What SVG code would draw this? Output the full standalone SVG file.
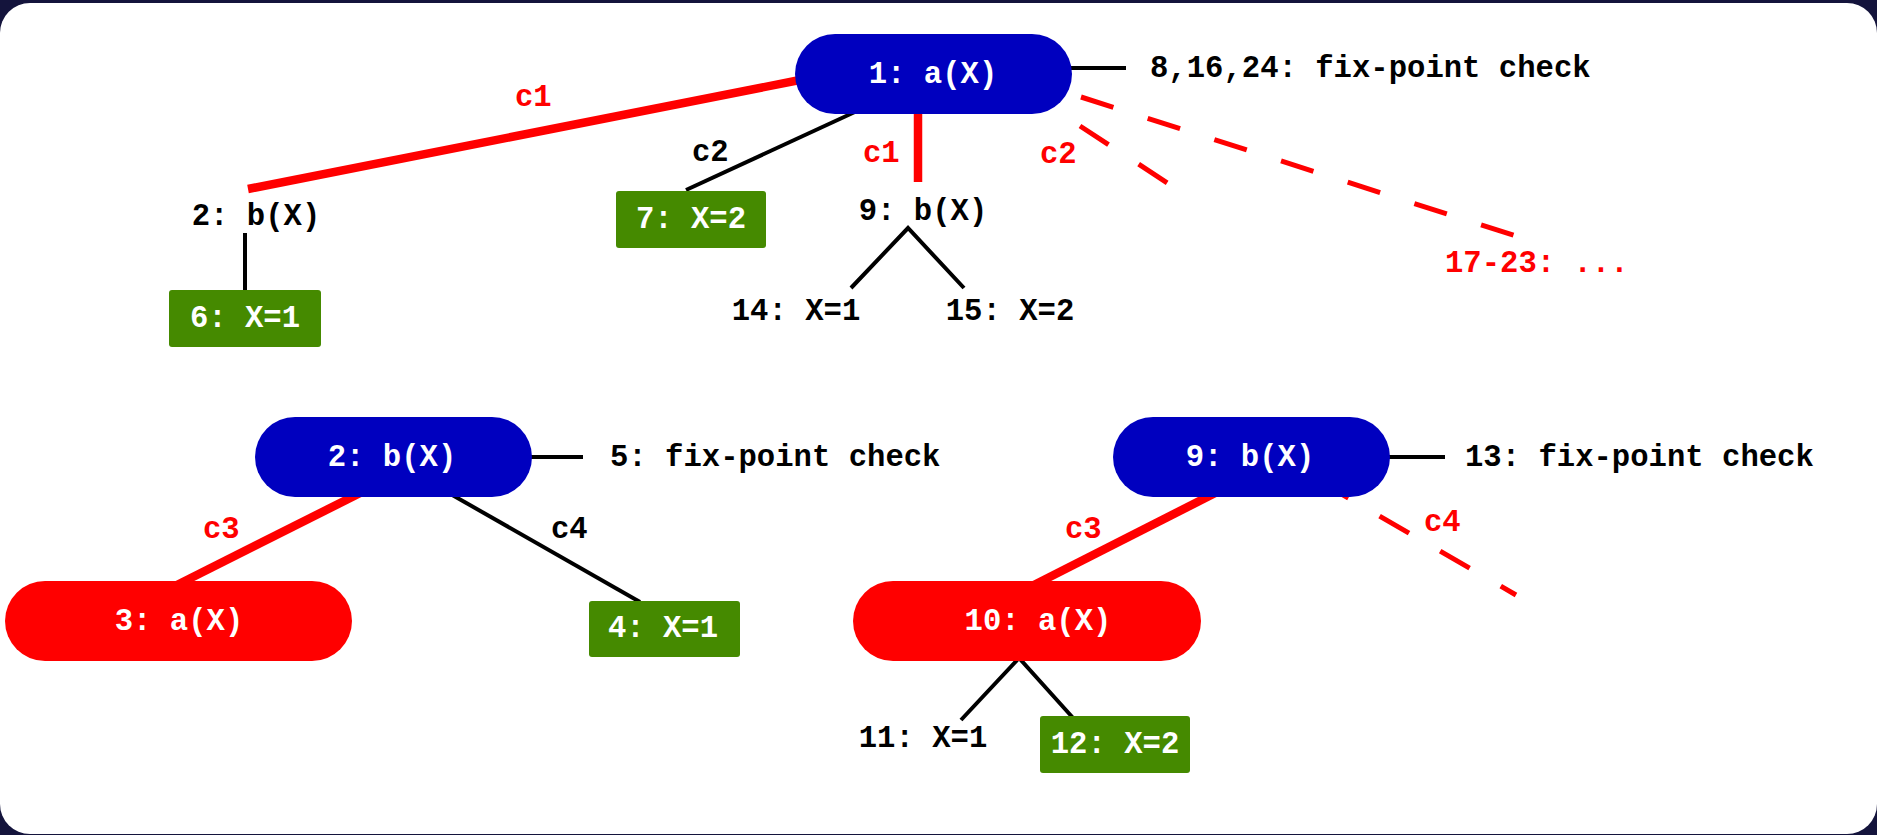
<svg xmlns="http://www.w3.org/2000/svg" width="1877" height="835" viewBox="0 0 1877 835">
  <style>
    text { font-family: "Liberation Mono", "DejaVu Sans Mono", monospace; font-weight: bold; font-size: 30.6px; }
    .w { fill: #ffffff; text-anchor: middle; }
    .k { fill: #000000; }
    .r { fill: #ff0000; }
    .km { fill: #000000; text-anchor: middle; }
    .blue { fill: #0000bf; }
    .red { fill: #ff0000; }
    .green { fill: #458a00; }
    .thin { stroke: #000000; stroke-width: 4; fill: none; }
    .thick { stroke: #ff0000; stroke-width: 8.5; fill: none; }
    .dash { stroke: #ff0000; stroke-width: 5; fill: none; stroke-dasharray: 34 36; }
  </style>
  <rect x="0" y="0" width="1877" height="835" fill="#14143c"/>
  <rect x="0" y="3" width="1877" height="831" rx="30" ry="30" fill="#ffffff"/>

  <g id="connectors">
    <line class="thick" x1="248" y1="189" x2="820" y2="76"/>
    <line class="thin" x1="870" y1="105" x2="686" y2="190"/>
    <line class="thick" x1="918" y1="110" x2="918" y2="182"/>
    <line class="thin" x1="1060" y1="68" x2="1126" y2="68"/>
    <line class="dash" x1="1081" y1="97" x2="1516" y2="236"/>
    <line class="dash" x1="1080" y1="126" x2="1169" y2="184"/>
    <line class="thin" x1="245" y1="233" x2="245" y2="291"/>
    <polyline class="thin" points="851,288 908,228 964,288"/>
    <line class="thin" x1="520" y1="457" x2="583" y2="457"/>
    <line class="thick" x1="370" y1="488" x2="175" y2="586"/>
    <line class="thin" x1="440" y1="488" x2="640" y2="602"/>
    <line class="thin" x1="1380" y1="457" x2="1445" y2="457"/>
    <line class="thick" x1="1225" y1="488" x2="1032" y2="586"/>
    <line class="dash" x1="1319" y1="481" x2="1516" y2="595"/>
    <polyline class="thin" points="961,720 1019,658 1074,719"/>
    <text class="r" x="515" y="106">c1</text>
    <text class="k" x="692" y="161">c2</text>
    <text class="r" x="863" y="162">c1</text>
    <text class="r" x="1040" y="163">c2</text>
    <text class="r" x="203" y="538">c3</text>
    <text class="k" x="551" y="538">c4</text>
    <text class="r" x="1065" y="538">c3</text>
    <text class="r" x="1424" y="531">c4</text>
  </g>

  <g id="n1">
    <rect class="blue" x="795" y="34" width="277" height="80" rx="40" ry="40"/>
    <text class="w" x="933" y="83">1: a(X)</text>
  </g>
  <g id="n8">
    <text class="k" x="1150" y="77">8,16,24: fix-point check</text>
  </g>
  <g id="n2a">
    <text class="km" x="256" y="225">2: b(X)</text>
  </g>
  <g id="n6">
    <rect class="green" x="169" y="290" width="152" height="57" rx="3" ry="3"/>
    <text class="w" x="245" y="327">6: X=1</text>
  </g>
  <g id="n7">
    <rect class="green" x="616" y="191" width="150" height="57" rx="3" ry="3"/>
    <text class="w" x="691" y="228">7: X=2</text>
  </g>
  <g id="n9a">
    <text class="km" x="923" y="220">9: b(X)</text>
  </g>
  <g id="n14">
    <text class="km" x="796" y="320">14: X=1</text>
  </g>
  <g id="n15">
    <text class="km" x="1010" y="320">15: X=2</text>
  </g>
  <g id="n17">
    <text class="r" x="1445" y="272">17-23: ...</text>
  </g>

  <g id="n2">
    <rect class="blue" x="255" y="417" width="277" height="80" rx="40" ry="40"/>
    <text class="w" x="392" y="466">2: b(X)</text>
  </g>
  <g id="n5">
    <text class="k" x="610" y="466">5: fix-point check</text>
  </g>
  <g id="n3">
    <rect class="red" x="5" y="581" width="347" height="80" rx="40" ry="40"/>
    <text class="w" x="179" y="630">3: a(X)</text>
  </g>
  <g id="n4">
    <rect class="green" x="589" y="601" width="151" height="56" rx="3" ry="3"/>
    <text class="w" x="663" y="637">4: X=1</text>
  </g>

  <g id="n9">
    <rect class="blue" x="1113" y="417" width="277" height="80" rx="40" ry="40"/>
    <text class="w" x="1250" y="466">9: b(X)</text>
  </g>
  <g id="n13">
    <text class="k" x="1465" y="466">13: fix-point check</text>
  </g>
  <g id="n10">
    <rect class="red" x="853" y="581" width="348" height="80" rx="40" ry="40"/>
    <text class="w" x="1038" y="630">10: a(X)</text>
  </g>
  <g id="n11">
    <text class="km" x="923" y="747">11: X=1</text>
  </g>
  <g id="n12">
    <rect class="green" x="1040" y="716" width="150" height="57" rx="3" ry="3"/>
    <text class="w" x="1115" y="753">12: X=2</text>
  </g>
</svg>
